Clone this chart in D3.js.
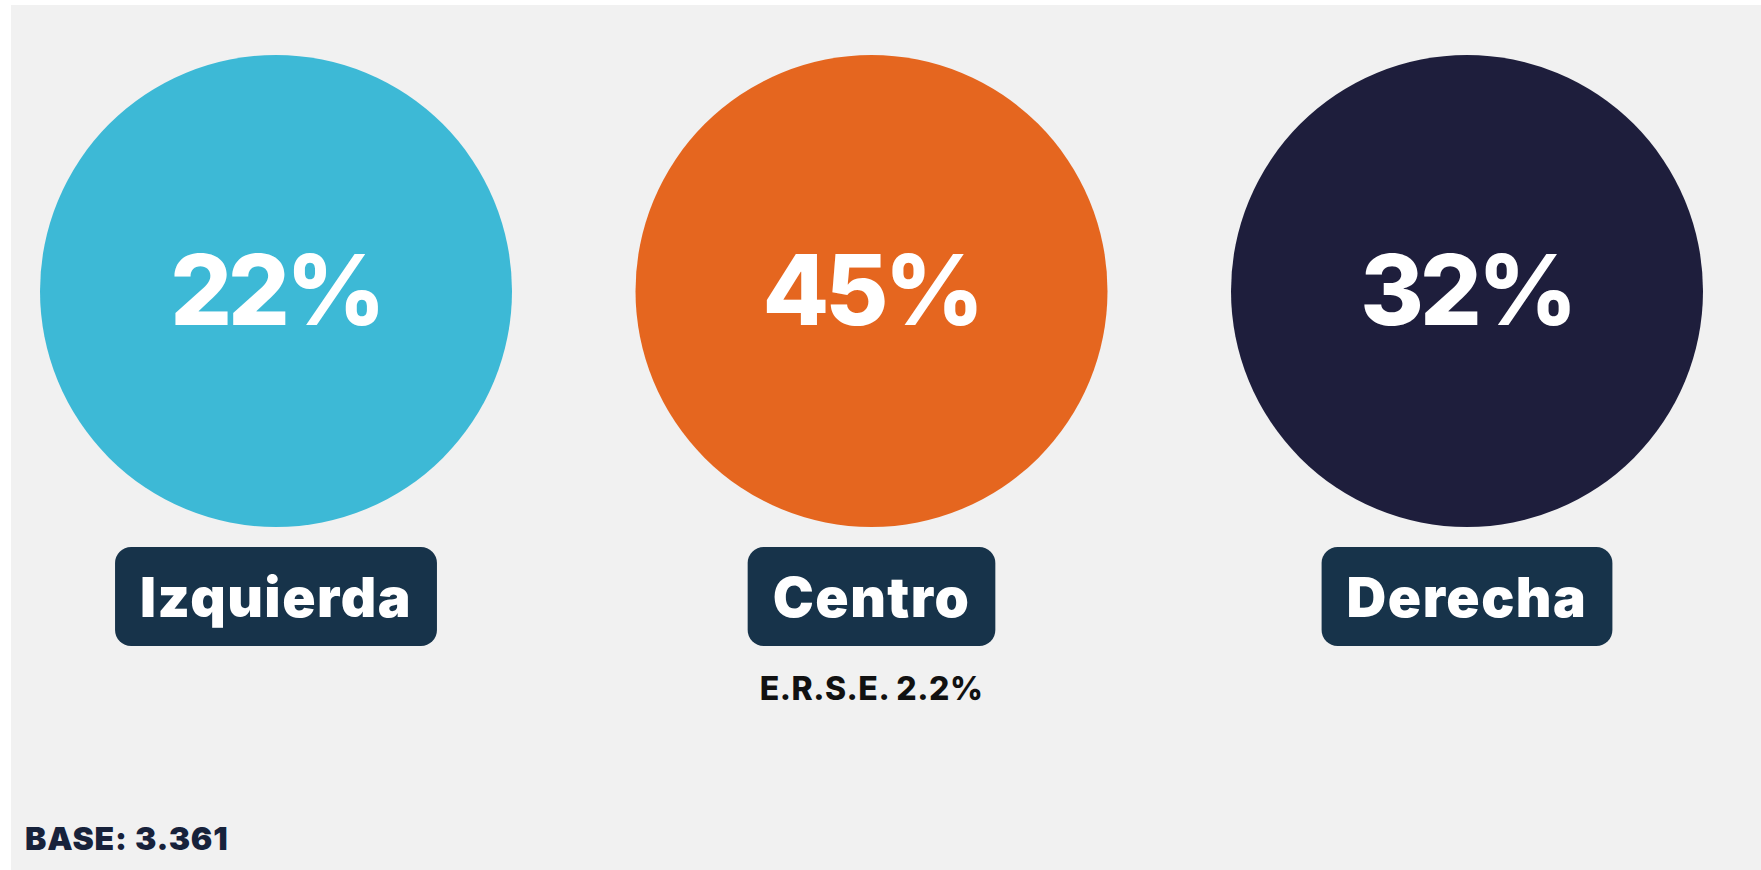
<!DOCTYPE html>
<html>
<head>
<meta charset="utf-8">
<script src="https://cdn.jsdelivr.net/npm/d3@7"></script>
<style>
  html, body { margin: 0; padding: 0; background: #ffffff; }
  svg { display: block; }
</style>
</head>
<body>
<svg id="chart"></svg>
<script>
const categories = ["Izquierda", "Centro", "Derecha"];
const values = [22, 45, 32];
const colors = ["#3db9d6", "#e5661f", "#1e1e3c"];
const notes = ["", "E.R.S.E. 2.2%", ""];
const baseLabel = "BASE: 3.361";

const width = 1761;
const height = 870;
const font = "Inter, 'Noto Sans', sans-serif";

const svg = d3.select("#chart")
  .attr("width", width)
  .attr("height", height);

// panel background (thin white strip top and left like the source)
svg.append("rect")
  .attr("x", 11).attr("y", 5)
  .attr("width", width - 11).attr("height", height - 5)
  .attr("fill", "#f1f1f1");

// circle centres across the page
const x = d3.scalePoint()
  .domain(categories)
  .range([276, 1467]);

const cy = 291;
const r = 236;

const groups = svg.selectAll("g.item")
  .data(categories.map((c, i) => ({ name: c, value: values[i], color: colors[i], note: notes[i] })))
  .enter()
  .append("g")
  .attr("class", "item")
  .attr("transform", d => "translate(" + x(d.name) + ",0)");

groups.append("circle")
  .attr("cx", 0)
  .attr("cy", cy)
  .attr("r", r)
  .attr("fill", d => d.color);

groups.append("text")
  .attr("x", 0)
  .attr("y", 325)
  .attr("text-anchor", "middle")
  .attr("fill", "#ffffff")
  .style("font-family", font)
  .style("font-weight", 800)
  .style("font-size", "97px")
  .style("letter-spacing", "-4px")
  .text(d => d.value + "%");

// label pills, sized to the text
groups.each(function(d) {
  const g = d3.select(this);
  const t = g.append("text")
    .attr("x", 0)
    .attr("y", 617)
    .attr("text-anchor", "middle")
    .attr("fill", "#ffffff")
    .style("font-family", font)
    .style("font-weight", 900)
    .style("font-size", "55px")
    .style("letter-spacing", "1.5px")
    .text(d.name);
  const w = t.node().getComputedTextLength();
  g.insert("rect", "text:last-of-type")
    .attr("x", -w / 2 - 25)
    .attr("y", 547)
    .attr("width", w + 50)
    .attr("height", 99)
    .attr("rx", 16)
    .attr("fill", "#17334a");
});

groups.filter(d => d.note)
  .append("text")
  .attr("x", 0)
  .attr("y", 700)
  .attr("text-anchor", "middle")
  .attr("fill", "#111111")
  .style("font-family", font)
  .style("font-weight", 800)
  .style("font-size", "32px")
  .style("letter-spacing", "0.5px")
  .text(d => d.note);

svg.append("text")
  .attr("x", 25)
  .attr("y", 850)
  .attr("fill", "#17223b")
  .style("font-family", font)
  .style("font-weight", 900)
  .style("font-size", "32px")
  .style("letter-spacing", "0.8px")
  .text(baseLabel);
</script>
</body>
</html>
